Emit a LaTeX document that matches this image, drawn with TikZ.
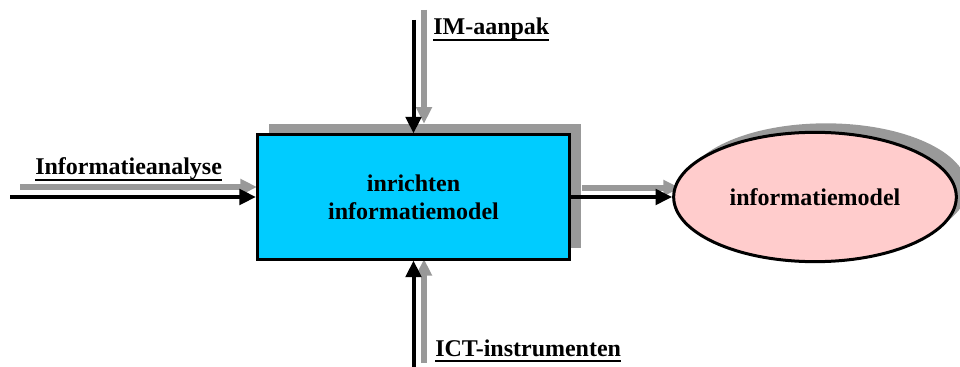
\documentclass[tikz,border=0pt]{standalone}
\usepackage{fontspec}
\setmainfont{Liberation Serif}
\usetikzlibrary{arrows.meta,shapes.geometric}
\definecolor{shadowgray}{HTML}{999999}
\definecolor{boxblue}{HTML}{00CCFF}
\definecolor{ellpink}{HTML}{FFCCCC}
\newcommand\thickul[1]{\setbox0\hbox{#1}\rlap{\rule[-4.6pt]{\wd0}{1.6pt}}\box0}
\tikzset{
  procbox/.style={rectangle, draw=black, line width=2.25pt, fill=boxblue,
    minimum width=234pt, minimum height=93pt, inner sep=0pt,
    align=center, font=\fontsize{18}{21}\selectfont\bfseries},
  procshadow/.style={rectangle, fill=shadowgray, minimum width=234pt,
    minimum height=93pt, inner sep=0pt},
  resell/.style={ellipse, draw=black, line width=2.25pt, fill=ellpink,
    minimum width=212pt, minimum height=97pt, inner sep=0pt,
    font=\fontsize{18}{21}\selectfont\bfseries},
  resshadow/.style={ellipse, fill=shadowgray, minimum width=212pt,
    minimum height=97pt, inner sep=0pt},
  blackarrow/.style={draw=black, line width=3pt,
    -{Triangle[length=12.5pt,width=11.5pt]}},
  grayarrow/.style={draw=shadowgray, line width=3.8pt,
    -{Triangle[length=12.5pt,width=11.5pt]}},
  lbl/.style={anchor=base west, inner sep=0pt,
    font=\fontsize{18}{21}\selectfont\bfseries}
}
\begin{document}
\begin{tikzpicture}[x=0.75pt,y=-0.75pt]
\useasboundingbox (0,0) rectangle (960,367);
% shadows
\node[procshadow] (procsh) at (424.5,186) {};
\node[resshadow] (ellsh) at (826,188) {};
% gray arrows
\coordinate (inLg) at (20,187);
\coordinate (topg) at (424,10);
\coordinate (botg) at (424,363);
\coordinate (outg) at (582,188);
\coordinate (outgend) at (680,188);
\draw[grayarrow] (inLg) -- (257,187);
\draw[grayarrow] (topg) -- (topg |- procsh.north);
\draw[grayarrow] (botg) -- (424,259);
\draw[grayarrow] (outg) -- (outgend);
% main nodes
\node[procbox] (proc) at (413.5,197) {inrichten\\informatiemodel};
\node[resell] (ell) at (815,197) {informatiemodel};
% black arrows
\coordinate (inL) at (10,197);
\coordinate (topb) at (413.5,20);
\coordinate (botb) at (413.5,367);
\draw[blackarrow] (inL) -- (proc.west);
\draw[blackarrow] (topb) -- (proc.north);
\draw[blackarrow] (botb) -- (proc.south);
\draw[blackarrow] (proc.east) -- (ell.west |- proc.east);
% labels
\node[lbl] (lin) at (35,175) {\thickul{Informatieanalyse}};
\node[lbl] (ltop) at (433,35) {\thickul{IM-aanpak}};
\node[lbl] (lbot) at (435,356) {\thickul{ICT-instrumenten}};
\end{tikzpicture}
\end{document}
